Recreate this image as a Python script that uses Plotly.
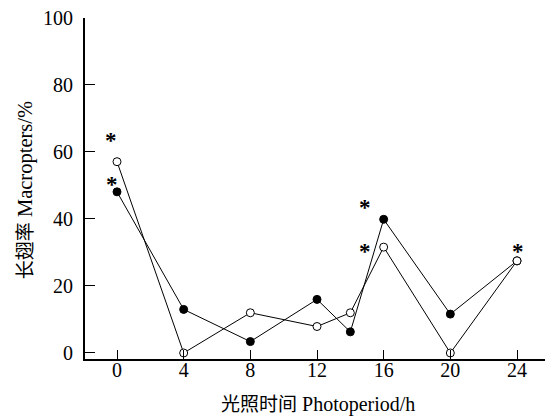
import plotly.graph_objects as go

hours = [0, 4, 8, 12, 14, 16, 20, 24]
filled_vals = [48.1, 13.0, 3.4, 16.0, 6.3, 39.9, 11.6, 27.5]
open_vals = [57.1, 0.0, 12.0, 7.9, 12.0, 31.6, 0.0, 27.5]

star_x = [-0.35, -0.3, 14.9, 14.9, 24.05]
star_y = [63.8, 50.6, 43.7, 30.5, 30.7]

x_ticks = [0, 4, 8, 12, 16, 20, 24]
y_ticks = [0, 20, 40, 60, 80, 100]

FONT = "Liberation Serif, Times New Roman, Noto Sans CJK SC, serif"

fig = go.Figure()
fig.add_trace(go.Scatter(
    x=hours, y=filled_vals, mode="lines+markers",
    line=dict(color="black", width=1),
    marker=dict(symbol="circle", size=8, color="black", line=dict(color="black", width=1)),
    showlegend=False, cliponaxis=False))
fig.add_trace(go.Scatter(
    x=hours, y=open_vals, mode="lines+markers",
    line=dict(color="black", width=1),
    marker=dict(symbol="circle", size=8, color="white", line=dict(color="black", width=1)),
    showlegend=False, cliponaxis=False))

for sx, sy in zip(star_x, star_y):
    fig.add_annotation(x=sx, y=sy, text="<b>*</b>", showarrow=False,
                       font=dict(family=FONT, size=23, color="black"), yshift=-1)

fig.add_annotation(
    xref="paper", yref="paper", x=0.504, y=-0.129, xanchor="center", yanchor="middle",
    text="<span style='font-family:Noto Sans CJK SC;font-size:19px'>光照时间</span> Photoperiod/h",
    showarrow=False, font=dict(family=FONT, size=20, color="black"))
fig.add_annotation(
    xref="paper", yref="paper", x=-0.131, y=0.496, xanchor="center", yanchor="middle",
    textangle=-90,
    text="<span style='font-family:Noto Sans CJK SC;font-size:19px'>长翅率</span> Macropters/%",
    showarrow=False, font=dict(family=FONT, size=20.5, color="black"))

fig.update_layout(
    width=545, height=409,
    margin=dict(l=77, r=5, t=10, b=58),
    paper_bgcolor="white", plot_bgcolor="white",
    font=dict(family=FONT, color="black", size=20),
)
fig.update_xaxes(
    range=[-1.92, 25.86], tickvals=x_ticks, ticktext=[str(v) for v in x_ticks],
    showgrid=False, zeroline=False, showline=True, linecolor="black", linewidth=2,
    ticks="inside", ticklen=9, tickwidth=1.2, tickcolor="black",
    tickfont=dict(size=20, family=FONT), ticklabelstandoff=-8, automargin=False,
    ticklabeloverflow="allow",
)
fig.update_yaxes(
    range=[-1.8, 100], tickvals=y_ticks, ticktext=[str(v) for v in y_ticks],
    showgrid=False, zeroline=False, showline=True, linecolor="black", linewidth=2,
    ticks="inside", ticklen=10, tickwidth=1.2, tickcolor="black",
    tickfont=dict(size=20, family=FONT), ticklabelstandoff=6, automargin=False,
    ticklabeloverflow="allow",
)

fig.write_html("out.html")
